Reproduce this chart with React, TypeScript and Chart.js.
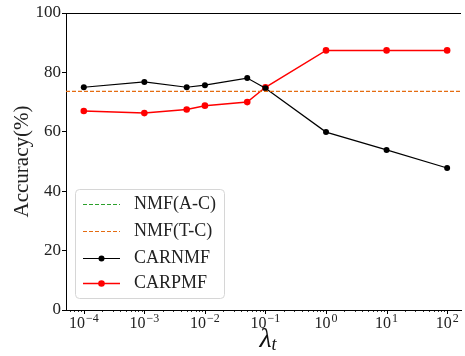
import React, { useEffect, useRef } from "react";
import { Chart, registerables } from "chart.js";

Chart.register(...registerables);

const lambdas = [1e-4, 1e-3, 5e-3, 1e-2, 5e-2, 1e-1, 1, 10, 100];
const carnmf = [75.0, 76.8, 75.0, 75.7, 78.1, 74.7, 59.9, 53.9, 47.8];
const carpmf = [67.0, 66.3, 67.5, 68.8, 70.0, 75.0, 87.4, 87.4, 87.4];
const nmfAC = 100;
const nmfTC = 73.6;
const yTicks = [0, 20, 40, 60, 80, 100];
const xDecades = [-4, -3, -2, -1, 0, 1, 2];
const legendLabels = ["NMF(A-C)", "NMF(T-C)", "CARNMF", "CARPMF"];

const X_MIN = Math.pow(10, -4.294);
const X_MAX = Math.pow(10, 2.229);

const SERIF = "'Liberation Serif', 'DejaVu Serif', serif";
const ORANGE = "#e46c12";
const GREEN = "#2ca02c";

const decor = {
  id: "decor",
  afterDatasetsDraw(chart: any) {
    const ctx = chart.ctx;
    const ca = chart.chartArea;
    const xs = chart.scales.x;
    ctx.save();
    // top spine
    ctx.strokeStyle = "#000";
    ctx.lineWidth = 1;
    ctx.beginPath();
    ctx.moveTo(ca.left, ca.top + 0.5);
    ctx.lineTo(ca.right, ca.top + 0.5);
    ctx.stroke();
    // x ticks
    const yb = ca.bottom;
    for (let d = -5; d <= 2; d++) {
      for (let m = 1; m <= 9; m++) {
        const v = m * Math.pow(10, d);
        if (v < X_MIN || v > X_MAX) continue;
        const px = Math.round(xs.getPixelForValue(v)) + 0.5;
        ctx.beginPath();
        ctx.lineWidth = m === 1 ? 1 : 0.8;
        ctx.moveTo(px, yb);
        ctx.lineTo(px, yb + (m === 1 ? 4 : 2));
        ctx.stroke();
      }
    }
    // x tick labels
    ctx.fillStyle = "#222";
    ctx.textBaseline = "alphabetic";
    ctx.textAlign = "left";
    for (const d of xDecades) {
      const px = xs.getPixelForValue(Math.pow(10, d));
      const base = "10";
      const exp = d < 0 ? "\u2212" + Math.abs(d) : String(d);
      ctx.font = `16px ${SERIF}`;
      const bw = ctx.measureText(base).width;
      ctx.font = `12px ${SERIF}`;
      const ew = ctx.measureText(exp).width;
      const start = px - (bw + ew + 1) / 2;
      ctx.font = `16px ${SERIF}`;
      ctx.fillText(base, start, 328);
      ctx.font = `12px ${SERIF}`;
      ctx.fillText(exp, start + bw + 1, 322);
    }
    // x title lambda_t
    const cx = 268;
    ctx.font = `italic 28px ${SERIF}`;
    const lw = ctx.measureText("\u03bb").width;
    ctx.font = `italic 18px ${SERIF}`;
    const tw = ctx.measureText("t").width;
    const sx = cx - (lw + tw) / 2;
    ctx.fillStyle = "#111";
    ctx.font = `italic 28px ${SERIF}`;
    ctx.fillText("\u03bb", sx, 347);
    ctx.font = `italic 18px ${SERIF}`;
    ctx.fillText("t", sx + lw, 350);
    // y title
    ctx.save();
    ctx.translate(28, (ca.top + ca.bottom) / 2);
    ctx.rotate(-Math.PI / 2);
    ctx.textAlign = "center";
    ctx.font = `21px ${SERIF}`;
    ctx.fillStyle = "#222";
    ctx.fillText("Accuracy(%)", 0, 0);
    ctx.restore();
    // legend
    const bx = 75.5, by = 189.5, bw2 = 149, bh = 109, r = 4;
    ctx.beginPath();
    ctx.moveTo(bx + r, by);
    ctx.arcTo(bx + bw2, by, bx + bw2, by + bh, r);
    ctx.arcTo(bx + bw2, by + bh, bx, by + bh, r);
    ctx.arcTo(bx, by + bh, bx, by, r);
    ctx.arcTo(bx, by, bx + bw2, by, r);
    ctx.closePath();
    ctx.fillStyle = "rgba(255,255,255,0.8)";
    ctx.fill();
    ctx.strokeStyle = "#d6d6d6";
    ctx.lineWidth = 1;
    ctx.stroke();
    const rows = [204, 231, 258, 283];
    const styles = [
      { c: GREEN, dash: [4, 2], lw: 1.2, pt: 0 },
      { c: ORANGE, dash: [4, 2], lw: 1.2, pt: 0 },
      { c: "#000", dash: [], lw: 1.2, pt: 3 },
      { c: "#ff0000", dash: [], lw: 1.5, pt: 3.3 },
    ];
    legendLabels.forEach((lab, i) => {
      const yy = rows[i] + 0.5;
      const s = styles[i];
      ctx.strokeStyle = s.c;
      ctx.lineWidth = s.lw;
      ctx.setLineDash(s.dash);
      ctx.beginPath();
      ctx.moveTo(83, yy);
      ctx.lineTo(120, yy);
      ctx.stroke();
      ctx.setLineDash([]);
      if (s.pt) {
        ctx.fillStyle = s.c;
        ctx.beginPath();
        ctx.arc(101.5, yy, s.pt, 0, Math.PI * 2);
        ctx.fill();
      }
      ctx.fillStyle = "#222";
      ctx.font = `18px ${SERIF}`;
      ctx.textAlign = "left";
      ctx.textBaseline = "middle";
      ctx.fillText(lab, 134, yy);
      ctx.textBaseline = "alphabetic";
    });
    ctx.restore();
  },
};

export default function App() {
  const ref = useRef<HTMLCanvasElement | null>(null);
  useEffect(() => {
    if (!ref.current) return;
    const chart = new Chart(ref.current, {
      type: "line",
      data: {
        datasets: [
          {
            label: legendLabels[0],
            data: [{ x: X_MIN, y: nmfAC }, { x: X_MAX, y: nmfAC }],
            borderColor: GREEN,
            borderWidth: 1.2,
            borderDash: [4, 2],
            pointRadius: 0,
          },
          {
            label: legendLabels[1],
            data: [{ x: X_MIN, y: nmfTC }, { x: X_MAX, y: nmfTC }],
            borderColor: ORANGE,
            borderWidth: 1.2,
            borderDash: [4, 2],
            pointRadius: 0,
          },
          {
            label: legendLabels[2],
            data: lambdas.map((x, i) => ({ x, y: carnmf[i] })),
            borderColor: "#000",
            backgroundColor: "#000",
            borderWidth: 1.2,
            pointRadius: 3,
            pointBorderWidth: 0,
          },
          {
            label: legendLabels[3],
            data: lambdas.map((x, i) => ({ x, y: carpmf[i] })),
            borderColor: "#ff0000",
            backgroundColor: "#ff0000",
            borderWidth: 1.5,
            pointRadius: 3.3,
            pointBorderWidth: 0,
          },
        ],
      },
      options: {
        animation: false,
        responsive: false,
        layout: { padding: { top: 13, right: 0, left: 0, bottom: 0 } },
        plugins: { legend: { display: false }, tooltip: { enabled: false } },
        scales: {
          x: {
            type: "logarithmic",
            min: X_MIN,
            max: X_MAX,
            ticks: { display: false },
            grid: { display: false },
            border: { display: true, color: "#000", width: 1 },
            afterFit: (s: any) => {
              s.height = 46;
              s.paddingLeft = 0;
              s.paddingRight = 0;
            },
          },
          y: {
            min: 0,
            max: 100,
            afterBuildTicks: (s: any) => {
              s.ticks = yTicks.map((v) => ({ value: v }));
            },
            ticks: {
              color: "#222",
              font: { family: SERIF, size: 17 },
              padding: 1,
            },
            grid: {
              display: true,
              drawOnChartArea: false,
              drawTicks: true,
              tickLength: 4,
              color: "#000",
            },
            border: { display: true, color: "#000", width: 1 },
            afterFit: (s: any) => {
              s.width = 66;
              s.paddingTop = 0;
              s.paddingBottom = 0;
            },
          },
        },
      },
      plugins: [decor],
    });
    return () => chart.destroy();
  }, []);
  return (
    <div>
      <canvas
        ref={ref}
        width={465}
        height={356}
        style={{ display: "block", position: "fixed", left: 0, top: 0, width: 465, height: 356 }}
      />
    </div>
  );
}
